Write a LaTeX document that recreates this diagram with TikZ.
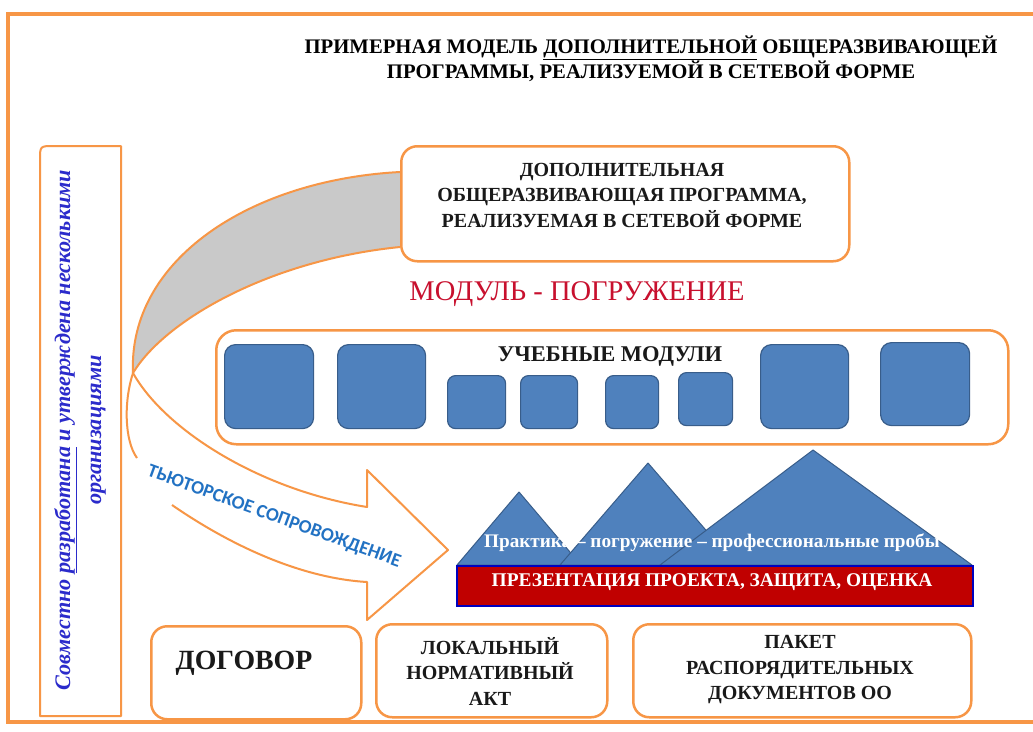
\documentclass[tikz,border=0pt]{standalone}
\usepackage{fontspec}
\setmainfont{Liberation Serif}
\newfontfamily\calib{Carlito}
\definecolor{org}{HTML}{F79646}
\definecolor{mblue}{HTML}{4F81BD}
\definecolor{mbord}{HTML}{385D8A}
\definecolor{mred}{HTML}{C00000}
\definecolor{vblue}{HTML}{2B2BCB}
\definecolor{tblue}{HTML}{2272C3}
\definecolor{gband}{HTML}{C9C9C9}
\definecolor{redtxt}{HTML}{C8102E}
\begin{document}
\begin{tikzpicture}[x=1pt,y=-1pt,
  obox/.style={draw=org, line width=2.5pt, rounded corners=16pt, fill=white, anchor=north west, inner sep=0pt},
  modbox/.style={draw=mbord, line width=1.2pt, fill=mblue, rounded corners=11pt, anchor=north west, inner sep=0pt},
  smod/.style={modbox, rounded corners=8pt},
  btxt/.style={font=\bfseries\fontsize{20}{25.5}\selectfont, align=center, text=black!90},
  tri/.style={draw=mbord, line width=1pt, fill=mblue, line join=round},
  oline/.style={draw=org, line width=2pt, line join=round}
]
\useasboundingbox[fill=white] (0,0) rectangle (1033,731);
% outer frame
\draw[org, line width=4pt] (1040,14) -- (8,14) -- (8,722) -- (1040,722);
% title
\node[font=\bfseries\fontsize{20.7}{24}\selectfont, align=center] (title) at (651,59)
  {ПРИМЕРНАЯ МОДЕЛЬ \underline{ДОПОЛНИТЕЛЬНОЙ} ОБЩЕРАЗВИВАЮЩЕЙ\\ПРОГРАММЫ, РЕАЛИЗУЕМОЙ В СЕТЕВОЙ ФОРМЕ};
% left vertical box
\draw[oline] (121,716) -- (40,716) -- (40,160) .. controls (40,146) .. (54,146) -- (121,146) -- cycle;
\node[rotate=90, font=\bfseries\itshape\fontsize{22.2}{31}\selectfont, text=vblue, align=center] (lefttxt) at (80,430)
  {Совместно \underline{разработана} и утверждена несколькими\\организациями};
% gray band (curved arrow back)
\coordinate (tip) at (133,373);
\draw[oline, fill=gband] (400,172) .. controls (250,180) and (128,260) .. (tip)
   .. controls (165,320) and (270,260) .. (400,247);
\draw[oline] (tip) .. controls (124,400) and (124,440) .. (137,458);
% curved arrow front
\coordinate (ah1) at (367,507);
\coordinate (ah2) at (367,470);
\coordinate (ahtip) at (448,550);
\coordinate (ah3) at (367,620);
\coordinate (ah4) at (367,582);
\draw[oline] (tip) .. controls (165,430) and (260,490) .. (ah1) -- (ah2) -- (ahtip) -- (ah3) -- (ah4)
   .. controls (300,578) and (230,545) .. (172,505);
\node[rotate=-20, font=\calib\bfseries\fontsize{19}{20}\selectfont, text=tblue] (tutor) at (274,517) {ТЬЮТОРСКОЕ СОПРОВОЖДЕНИЕ};
% program box
\node[obox, minimum width=448pt, minimum height=115pt] (prog) at (400,145) {};
\node[btxt] (progtxt) at (622,195)
  {ДОПОЛНИТЕЛЬНАЯ\\ОБЩЕРАЗВИВАЮЩАЯ ПРОГРАММА,\\РЕАЛИЗУЕМАЯ В СЕТЕВОЙ ФОРМЕ};
% module immersion
\node[font=\fontsize{28.5}{30}\selectfont, text=redtxt] (immersion) at (577,294) {МОДУЛЬ - ПОГРУЖЕНИЕ};
% modules box
\node[obox, minimum width=792pt, minimum height=114pt, rounded corners=20pt] (mods) at (215,329) {};
\node[modbox, minimum width=89pt, minimum height=84pt] (m1) at (224,344) {};
\node[modbox, minimum width=88pt, minimum height=84pt] (m2) at (337,344) {};
\node[smod, minimum width=58pt, minimum height=53pt] (m3) at (447,375) {};
\node[smod, minimum width=57pt, minimum height=53pt] (m4) at (520,375) {};
\node[smod, minimum width=53pt, minimum height=53pt] (m5) at (605,375) {};
\node[smod, minimum width=54pt, minimum height=53pt] (m6) at (678,372) {};
\node[modbox, minimum width=88pt, minimum height=84pt] (m7) at (760,344) {};
\node[modbox, minimum width=89pt, minimum height=83pt] (m8) at (880,342) {};
\node[btxt, font=\bfseries\fontsize{22.5}{24}\selectfont] (modtxt) at (610,356) {УЧЕБНЫЕ МОДУЛИ};
% mountains
\draw[tri] (457,565) -- (519,492) -- (581,565) -- cycle;
\draw[tri] (560,565) -- (648,463) -- (736,565) -- cycle;
\draw[tri] (660,565) -- (813,450) -- (972,565) -- cycle;
\node[font=\bfseries\fontsize{19.2}{20}\selectfont, text=white] (practice) at (712,543)
  {Практика – погружение – профессиональные пробы};
% red bar
\node[fill=mred, draw=blue!75!black, line width=1.5pt, anchor=north west, minimum width=516pt, minimum height=40pt, inner sep=0pt] (bar) at (456,565) {};
\node[font=\bfseries\fontsize{19.4}{20}\selectfont, text=white] (bartxt) at (712,582) {ПРЕЗЕНТАЦИЯ ПРОЕКТА, ЗАЩИТА, ОЦЕНКА};
% bottom boxes
\node[obox, minimum width=210pt, minimum height=93pt] (dog) at (150,625) {};
\node[btxt, font=\bfseries\fontsize{27.8}{30}\selectfont] (dogtxt) at (244,663) {ДОГОВОР};
\node[obox, minimum width=231pt, minimum height=93pt] (lna) at (375,623) {};
\node[btxt] (lnatxt) at (490,671) {ЛОКАЛЬНЫЙ\\НОРМАТИВНЫЙ\\АКТ};
\node[obox, minimum width=338pt, minimum height=93pt] (pak) at (632,623) {};
\node[btxt] (paktxt) at (800,670) {ПАКЕТ\\РАСПОРЯДИТЕЛЬНЫХ\\ДОКУМЕНТОВ ОО};
\end{tikzpicture}
\end{document}
